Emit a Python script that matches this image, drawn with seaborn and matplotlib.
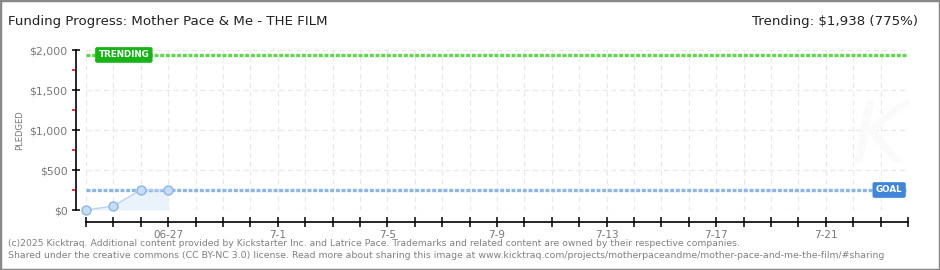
import matplotlib
matplotlib.use("Agg")
import matplotlib.pyplot as plt
from matplotlib.patches import Rectangle
import seaborn as sns
import pandas as pd

# ---- data ----
dates = ["2025-06-24", "2025-06-25", "2025-06-26", "2025-06-27"]
pledged = [0, 50, 250, 250]
goal = 250
trending = 1938
x_start = "2025-06-24"
x_end = "2025-07-24"
xtick_dates = ["2025-06-27", "2025-07-01", "2025-07-05", "2025-07-09",
               "2025-07-13", "2025-07-17", "2025-07-21"]
xtick_labels = ["06-27", "7-1", "7-5", "7-9", "7-13", "7-17", "7-21"]
ytick_values = [0, 500, 1000, 1500, 2000]
ytick_labels = ["$0", "$500", "$1,000", "$1,500", "$2,000"]
yminor_values = [250, 750, 1250, 1750]
title = "Funding Progress: Mother Pace & Me - THE FILM"
trend_text = "Trending: $1,938 (775%)"
footer1 = ("(c)2025 Kicktraq. Additional content provided by Kickstarter Inc. and Latrice Pace. "
           "Trademarks and related content are owned by their respective companies.")
footer2 = ("Shared under the creative commons (CC BY-NC 3.0) license. Read more about sharing this image at "
           "www.kicktraq.com/projects/motherpaceandme/mother-pace-and-me-the-film/#sharing")

sns.set_theme(style="white")
plt.rcParams['font.family'] = ['DejaVu Sans']

df = pd.DataFrame({"date": pd.to_datetime(dates), "pledged": pledged})

W, H = 940, 270
fig = plt.figure(figsize=(W / 100, H / 100), dpi=100)
left_px, right_px, top_px, bottom_px = 86, 908, 50, 210
ax = fig.add_axes([left_px / W, 1 - bottom_px / H, (right_px - left_px) / W, (bottom_px - top_px) / H])

xs, xe = pd.Timestamp(x_start), pd.Timestamp(x_end)
ax.set_xlim(xs, xe)
ax.set_ylim(0, 2000)

# grid
all_days = pd.date_range(xs, xe, freq="D")
for d in all_days:
    ax.axvline(d, color="#e8e8e8", lw=0.9, ls=(0, (4, 3)), zorder=0)
for v in ytick_values:
    ax.axhline(v, color="#e8e8e8", lw=0.9, ls=(0, (4, 3)), zorder=0)

# faint watermark
ax.text(0.965, 0.45, "K", transform=ax.transAxes, fontsize=60, color="#fafafa",
        style="italic", ha="center", va="center", zorder=0)

# area + line
ax.fill_between(df["date"], df["pledged"], 0, color="#eaf2fb", zorder=1, lw=0)
sns.lineplot(data=df, x="date", y="pledged", ax=ax, color="#b9d3f0", lw=1.0,
             marker="o", markersize=6.5, markerfacecolor="#c6ddf6",
             markeredgecolor="#8fb6e3", markeredgewidth=1.0, zorder=3, clip_on=False)

# trending and goal lines
ax.plot([xs, xe], [trending, trending], color="#5fd84f", lw=2.4, ls=(0, (1.2, 0.5)), zorder=2)
ax.plot([xs, xe], [goal, goal], color="#8fb6e3", lw=2.4, ls=(0, (1.2, 0.5)), zorder=2)

ax.annotate("TRENDING", xy=(xs, trending), xytext=(9, 0), textcoords="offset points",
            ha="left", va="center", fontsize=6.3, color="white", fontweight="bold",
            bbox=dict(boxstyle="round,pad=0.3,rounding_size=0.15", fc="#17b317", ec="#17b317"),
            zorder=5, annotation_clip=False)
ax.annotate("GOAL", xy=(xe, goal), xytext=(-4, 0), textcoords="offset points",
            ha="right", va="center", fontsize=6.3, color="white", fontweight="bold",
            bbox=dict(boxstyle="round,pad=0.3,rounding_size=0.15", fc="#3f86d6", ec="#3f86d6"),
            zorder=5, annotation_clip=False)

# spines
for s in ["top", "right"]:
    ax.spines[s].set_visible(False)
ax.spines["left"].set_position(("outward", 7.2))
ax.spines["bottom"].set_position(("outward", 8.6))
for s in ["left", "bottom"]:
    ax.spines[s].set_color("black")
    ax.spines[s].set_linewidth(1.2)

# ticks
ax.set_yticks(ytick_values)
ax.set_yticklabels(ytick_labels)
ax.set_yticks(yminor_values, minor=True)
ax.tick_params(axis="y", which="major", direction="inout", length=6, width=1.1,
               color="black", labelsize=7.8, labelcolor="#777777", pad=3, left=True)
ax.tick_params(axis="y", which="minor", direction="out", length=3, width=1.1,
               color="#dd0000", left=True)

ax.set_xticks(all_days)
lab_map = {pd.Timestamp(d): l for d, l in zip(xtick_dates, xtick_labels)}
ax.set_xticklabels([lab_map.get(d, "") for d in all_days])
ax.tick_params(axis="x", which="major", direction="inout", length=7, width=1.1,
               color="black", labelsize=7.5, labelcolor="#777777", pad=2, bottom=True)

ax.set_xlabel("")
ax.set_ylabel("")
fig.text(20 / W, 1 - 130 / H, "PLEDGED", rotation=90, ha="center", va="center",
         fontsize=6, color="#777777")

# titles
fig.text(8 / W, 1 - 22 / H, title, ha="left", va="center", fontsize=9.6, color="#222222")
fig.text(918 / W, 1 - 22 / H, trend_text, ha="right", va="center", fontsize=9.6, color="#222222")

# footer
fig.text(8 / W, 1 - 243 / H, footer1, ha="left", va="center", fontsize=6.65, color="#808080")
fig.text(8 / W, 1 - 256 / H, footer2, ha="left", va="center", fontsize=6.75, color="#808080")

# border
fig.patches.append(Rectangle((0, 0), 1, 1, transform=fig.transFigure, fill=False,
                             ec="#888888", lw=2.5))

fig.savefig("out.png", dpi=100)
